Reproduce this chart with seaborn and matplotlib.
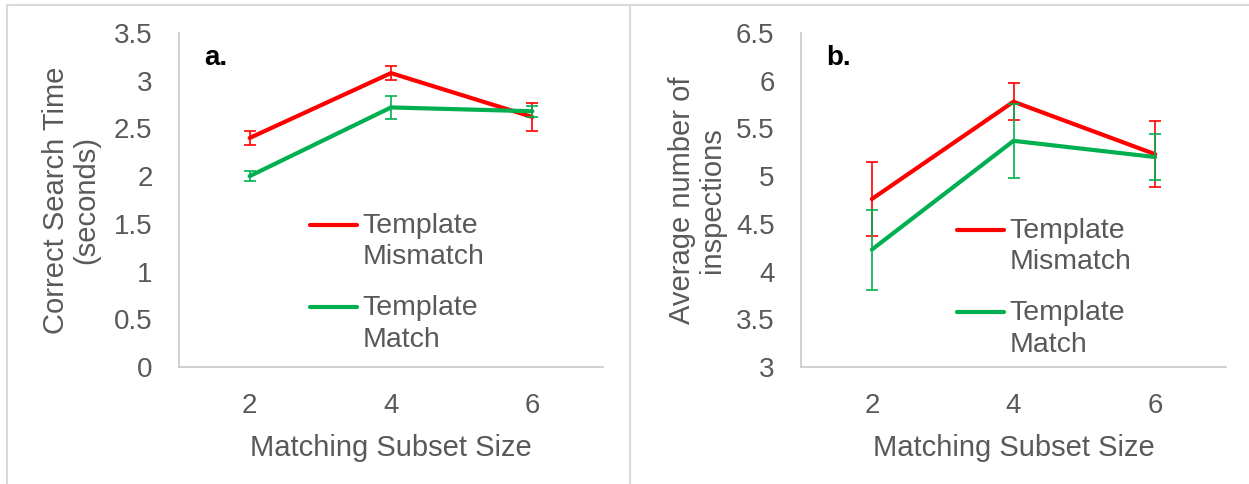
import numpy as np
import pandas as pd
import matplotlib
matplotlib.use("Agg")
import matplotlib.pyplot as plt
from matplotlib.lines import Line2D
from matplotlib.legend_handler import HandlerLine2D
import seaborn as sns

# ---- data ----
subset_sizes = [2, 4, 6]
series_names = ["Template\nMismatch", "Template\nMatch"]
series_colors = ["#FF0000", "#00B050"]

time_mismatch = [2.40, 3.08, 2.62]
time_mismatch_err = [0.075, 0.075, 0.15]
time_match = [2.00, 2.72, 2.68]
time_match_err = [0.05, 0.125, 0.06]

insp_mismatch = [4.76, 5.78, 5.23]
insp_mismatch_err = [0.39, 0.195, 0.345]
insp_match = [4.23, 5.37, 5.20]
insp_match_err = [0.42, 0.39, 0.245]

time_ticks = [0, 0.5, 1, 1.5, 2, 2.5, 3, 3.5]
insp_ticks = [3, 3.5, 4, 4.5, 5, 5.5, 6, 6.5]

sns.set_style("white")
plt.rcParams["font.family"] = ["Liberation Sans", "DejaVu Sans"]

TXT = "#595959"
SPINE = "#C8C8C8"
LEG_FS = 20.5
LEG_LS = 1.27


class FirstLineHandler(HandlerLine2D):
    """Place the legend line next to the first line of a two-line label."""
    def create_artists(self, legend, orig_handle, xdescent, ydescent,
                       width, height, fontsize, trans):
        arts = super().create_artists(legend, orig_handle, xdescent, ydescent,
                                      width, height, fontsize, trans)
        shift = 0.5 * LEG_LS * 0.94 * fontsize
        for a in arts:
            a.set_ydata(np.asarray(a.get_ydata(), dtype=float) + shift)
        return arts


fig = plt.figure(figsize=(12.49, 4.84), dpi=100)
axA = fig.add_axes([179 / 1249, 1 - 367 / 484, 424 / 1249, 334 / 484])
axB = fig.add_axes([801 / 1249, 1 - 367 / 484, 425 / 1249, 334 / 484])


def draw(ax, vals, errs, ticks, ylabel, letter, leg_anchor, ylab_x):
    rows = []
    for name, v in zip(series_names, vals):
        for s, y in zip(subset_sizes, v):
            rows.append({"size": s, "value": y, "series": name})
    df = pd.DataFrame(rows)
    sns.lineplot(data=df, x="size", y="value", hue="series",
                 hue_order=series_names, palette=series_colors,
                 linewidth=3.0, ax=ax, legend=False, errorbar=None)
    for v, e, c in zip(vals, errs, series_colors):
        ax.errorbar(subset_sizes, v, yerr=e, fmt="none", ecolor=c,
                    elinewidth=1.2, capsize=4.5, capthick=1.2, zorder=3)
    ax.set_xlim(1, 7)
    ax.set_ylim(ticks[0], ticks[-1])
    ax.set_xticks(subset_sizes)
    ax.set_xticklabels([str(s) for s in subset_sizes])
    ax.set_yticks(ticks)
    ax.set_yticklabels([f"{t:g}" for t in ticks])
    ax.tick_params(axis="y", length=0, pad=19, labelsize=20, labelcolor=TXT)
    ax.tick_params(axis="x", length=0, pad=19, labelsize=20, labelcolor=TXT)
    for sp in ["top", "right"]:
        ax.spines[sp].set_visible(False)
    for sp in ["left", "bottom"]:
        ax.spines[sp].set_color(SPINE)
        ax.spines[sp].set_linewidth(1.2)
    ax.set_xlabel("Matching Subset Size", fontsize=21, color=TXT)
    ax.xaxis.set_label_coords(0.5, -0.2)
    ax.set_ylabel(ylabel, fontsize=21, color=TXT, linespacing=1.1)
    ax.yaxis.set_label_coords(ylab_x, 0.5)
    ax.text(0.06, 0.965, letter, transform=ax.transAxes, fontsize=20,
            fontweight="bold", color="black", va="top", ha="left")
    handles = [Line2D([], [], color=c, lw=3.0) for c in series_colors]
    leg = ax.legend(handles, series_names, loc="upper left",
                    bbox_to_anchor=leg_anchor, frameon=False, fontsize=LEG_FS,
                    handlelength=1.65, handletextpad=0.2, labelspacing=0.88,
                    borderpad=0, borderaxespad=0,
                    handler_map={Line2D: FirstLineHandler()})
    for t in leg.get_texts():
        t.set_color(TXT)
        t.set_linespacing(LEG_LS)


draw(axA, [time_mismatch, time_match], [time_mismatch_err, time_match_err],
     time_ticks, "Correct Search Time\n(seconds)", "a.", (0.309, 0.461), -0.186)
draw(axB, [insp_mismatch, insp_match], [insp_mismatch_err, insp_match_err],
     insp_ticks, "Average number of\ninspections", "b.", (0.367, 0.446), -0.176)

# frame / separator decorations
BORDER = "#D9D9D9"
fig.add_artist(Line2D([6.5 / 1249, 6.5 / 1249], [0, 1 - 5 / 484], color=BORDER, lw=1.5))
fig.add_artist(Line2D([6.5 / 1249, 1], [1 - 5 / 484, 1 - 5 / 484], color=BORDER, lw=1.5))
fig.add_artist(Line2D([630 / 1249, 630 / 1249], [0, 1 - 5 / 484], color=BORDER, lw=1.5))

fig.savefig("out.png", dpi=100)
